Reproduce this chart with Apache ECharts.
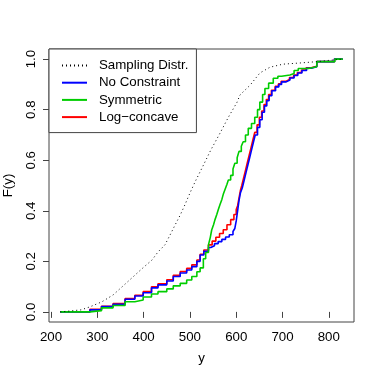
<!DOCTYPE html>
<html>
<head>
<meta charset="utf-8">
<script src="https://cdn.jsdelivr.net/npm/echarts@6/dist/echarts.min.js"></script>
<style>
  html, body { margin: 0; padding: 0; background: #fff; }
  #chart { width: 382px; height: 382px; }
</style>
</head>
<body>
<div id="chart"></div>
<script>
// tick labels
const xTicks = [200, 300, 400, 500, 600, 700, 800];
const yTicks = [0, 0.2, 0.4, 0.6, 0.8, 1.0];

// Sampling distribution (dotted)
const samplingX = [220, 265, 284, 310, 334, 360, 381, 399, 418, 431, 446, 457, 468, 479, 489, 500, 511, 526, 545, 565, 583, 602, 608, 630, 651, 673, 701, 740, 775, 800, 830];
const samplingY = [0, 0.008, 0.02, 0.04, 0.067, 0.11, 0.145, 0.175, 0.205, 0.237, 0.265, 0.304, 0.344, 0.383, 0.423, 0.47, 0.514, 0.569, 0.64, 0.707, 0.77, 0.83, 0.858, 0.897, 0.945, 0.968, 0.98, 0.985, 0.99, 0.995, 1.0];

// No constraint (blue step)
const noConstraintX = [220, 284, 309, 334, 360, 381, 399, 417, 431, 450, 464, 479, 493, 504, 515, 522, 530, 540, 545, 553, 561, 569, 577, 585, 593, 597,
  600, 603, 606, 609, 613, 617, 621, 625, 629, 633, 637, 641, 646, 651, 656, 661, 666, 671, 677, 685, 692, 698, 708, 716, 725, 733, 742, 752, 762, 774, 812, 830];
const noConstraintY = [0, 0.008, 0.021, 0.03, 0.05, 0.063, 0.076, 0.095, 0.107, 0.122, 0.14, 0.154, 0.166, 0.179, 0.2, 0.225, 0.24, 0.255, 0.262, 0.27, 0.278, 0.287, 0.296, 0.305, 0.318, 0.33,
  0.36, 0.4, 0.44, 0.47, 0.49, 0.52, 0.55, 0.58, 0.61, 0.64, 0.67, 0.7, 0.73, 0.76, 0.79, 0.815, 0.835, 0.855, 0.875, 0.89, 0.9, 0.91, 0.917, 0.925, 0.935, 0.945, 0.955, 0.964, 0.97, 0.99, 1.0, 1.0];

// Symmetric (green step)
const symmetricX = [220, 284, 309, 334, 360, 381, 399, 417, 431, 450, 464, 479, 493, 504, 515, 522, 529, 534, 540, 544, 547, 551, 554, 558, 561, 565, 569, 572, 576, 580, 583,
  588, 593, 597, 602, 606, 611, 615, 620, 626, 633, 640, 646, 651, 657, 662, 670, 680, 690, 698, 716, 725, 734, 756, 774, 813, 830];
const symmetricY = [0, 0.005, 0.016, 0.025, 0.04, 0.047, 0.059, 0.071, 0.08, 0.091, 0.103, 0.113, 0.126, 0.14, 0.159, 0.174, 0.21, 0.235, 0.265, 0.295, 0.324, 0.345, 0.364, 0.385, 0.403, 0.425, 0.445, 0.465, 0.485, 0.505, 0.522,
  0.54, 0.565, 0.588, 0.61, 0.635, 0.655, 0.673, 0.7, 0.726, 0.745, 0.77, 0.8, 0.83, 0.86, 0.884, 0.905, 0.924, 0.932, 0.937, 0.943, 0.955, 0.963, 0.97, 0.99, 1.0, 1.0];

// Log-concave (red step)
const logConcaveX = [220, 284, 309, 334, 360, 381, 399, 417, 431, 450, 464, 479, 493, 504, 515, 522, 530, 540, 548, 556, 564, 572, 580, 588, 595, 600, 603, 606, 609, 612,
  616, 620, 624, 628, 632, 636, 640, 645, 650, 655, 660, 665, 670, 676, 684, 691, 697, 707, 715, 724, 732, 741, 751, 762, 774, 812, 830];
const logConcaveY = [0, 0.01, 0.022, 0.033, 0.053, 0.066, 0.08, 0.099, 0.111, 0.127, 0.145, 0.16, 0.172, 0.186, 0.205, 0.228, 0.245, 0.265, 0.28, 0.295, 0.31, 0.325, 0.345, 0.365, 0.385, 0.405, 0.42, 0.45, 0.48, 0.5,
  0.53, 0.56, 0.59, 0.62, 0.65, 0.68, 0.71, 0.74, 0.77, 0.795, 0.82, 0.84, 0.86, 0.877, 0.892, 0.902, 0.912, 0.919, 0.927, 0.937, 0.947, 0.957, 0.966, 0.972, 0.99, 1.0, 1.0];

const zip = (xs, ys) => xs.map((x, i) => [x, ys[i]]);
const FONT = 'Liberation Sans, Arial, Helvetica, sans-serif';

const chart = echarts.init(document.getElementById('chart'));
chart.setOption({
  animation: false,
  backgroundColor: '#fff',
  textStyle: { fontFamily: FONT },
  grid: {
    left: 49, right: 28, top: 49, bottom: 60,
    containLabel: false,
    outerBoundsMode: 'none',
    show: true, borderColor: '#444', borderWidth: 1, backgroundColor: 'transparent'
  },
  legend: {
    orient: 'vertical',
    left: 49, top: 49,
    padding: [10, 8, 9, 12],
    itemGap: 4.2,
    itemWidth: 25,
    itemHeight: 14,
    backgroundColor: '#fff',
    borderColor: '#444',
    borderWidth: 1,
    borderRadius: 0,
    itemStyle: { opacity: 0 },
    data: ['Sampling Distr.', 'No Constraint', 'Symmetric', 'Log\u2212concave'],
    textStyle: { fontSize: 13.3, color: '#000', fontFamily: FONT, padding: [0, 0, 0, 7] }
  },
  xAxis: {
    type: 'value',
    min: 195.6, max: 854.4,
    name: 'y', nameLocation: 'middle', nameGap: 30,
    nameTextStyle: { fontSize: 13.3, color: '#000', fontFamily: FONT },
    splitLine: { show: false },
    axisLine: { show: false },
    axisTick: { show: true, length: 6, customValues: xTicks, lineStyle: { color: '#444' } },
    axisLabel: { customValues: xTicks, fontSize: 13.3, color: '#000', margin: 9, fontFamily: FONT }
  },
  yAxis: {
    type: 'value',
    min: -0.04, max: 1.04,
    name: 'F(y)', nameLocation: 'middle', nameGap: 34, nameRotate: 90,
    nameTextStyle: { fontSize: 13.3, color: '#000', fontFamily: FONT },
    splitLine: { show: false },
    axisLine: { show: false },
    axisTick: { show: true, length: 6, customValues: yTicks, lineStyle: { color: '#444' } },
    axisLabel: {
      customValues: yTicks, rotate: 90, fontSize: 13.3, color: '#000', margin: 11, fontFamily: FONT,
      formatter: v => v.toFixed(1)
    }
  },
  series: [
    {
      name: 'Log\u2212concave', type: 'line', step: 'end', symbol: 'none',
      data: zip(logConcaveX, logConcaveY),
      lineStyle: { color: '#ff0000', width: 1.6 }, itemStyle: { color: '#ff0000' }
    },
    {
      name: 'No Constraint', type: 'line', step: 'end', symbol: 'none',
      data: zip(noConstraintX, noConstraintY),
      lineStyle: { color: '#0000ff', width: 1.6 }, itemStyle: { color: '#0000ff' }
    },
    {
      name: 'Symmetric', type: 'line', step: 'end', symbol: 'none',
      data: zip(symmetricX, symmetricY),
      lineStyle: { color: '#00cd00', width: 1.6 }, itemStyle: { color: '#00cd00' }
    },
    {
      name: 'Sampling Distr.', type: 'line', symbol: 'none',
      data: zip(samplingX, samplingY),
      lineStyle: { color: '#000', width: 1, type: [1, 3] }, itemStyle: { color: '#000' }
    }
  ]
});
</script>
</body>
</html>
